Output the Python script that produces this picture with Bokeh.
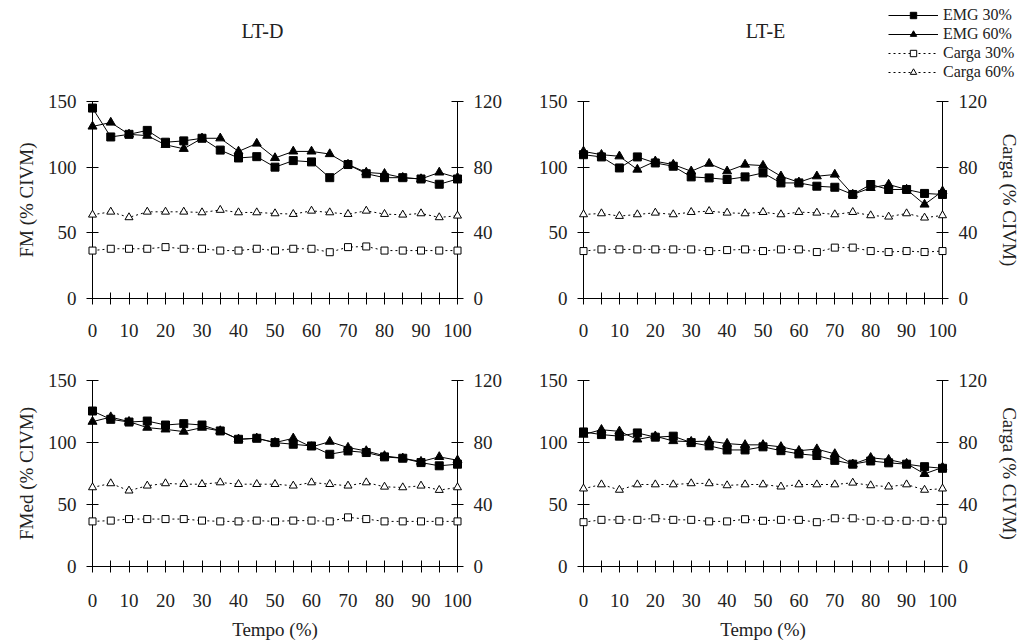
from bokeh.plotting import figure
from bokeh.models import (Range1d, LinearAxis, FixedTicker, Legend, LegendItem, Label)
from bokeh.layouts import column, row
from bokeh.embed import file_html
from bokeh.resources import INLINE

tempo = [0, 5, 10, 15, 20, 25, 30, 35, 40, 45, 50, 55, 60, 65, 70, 75, 80, 85, 90, 95, 100]

# LT-D, FM
d_fm_emg30 = [145, 123, 125, 128, 119, 120, 122, 113, 107, 108, 100, 105, 104, 92, 102, 95, 92, 92, 91, 87, 91]
d_fm_emg60 = [131, 134, 125, 124, 117, 114, 122, 122, 112, 118, 107, 112, 112, 110, 102, 96, 95, 92, 91, 96, 92]
d_fm_carga30 = [29.2, 30.3, 30.3, 30.3, 31.3, 30.3, 30.3, 29.2, 29.2, 30.3, 29.2, 30.3, 30.3, 28.2, 31.3, 31.7, 29.2, 29.2, 29.2, 29.2, 29.2]
d_fm_carga60 = [51.0, 52.8, 49.4, 52.8, 52.8, 52.8, 52.4, 53.9, 52.4, 52.4, 51.8, 51.4, 53.4, 52.4, 51.4, 53.4, 51.4, 51.0, 51.8, 49.4, 50.4]

# LT-E, FM
e_fm_emg30 = [109.5, 107.8, 99.4, 107.8, 103.2, 100.7, 92.6, 91.8, 90.6, 92.6, 95.6, 88, 88, 85.5, 84.7, 79.2, 86.8, 83, 83, 80, 79.2]
e_fm_emg60 = [112, 109.5, 108.3, 98.2, 104.5, 102, 96.9, 102.7, 96.9, 102, 101.2, 93.1, 88.5, 93.1, 94.4, 79.2, 84.2, 86.8, 83, 71.6, 81.7]
e_fm_carga30 = [28.9, 29.9, 29.9, 29.9, 29.9, 29.9, 29.9, 28.9, 29.5, 29.9, 28.9, 29.9, 29.9, 28.3, 31.0, 31.0, 28.9, 28.3, 28.9, 28.3, 28.9]
e_fm_carga60 = [51.2, 51.8, 50.2, 51.2, 52.2, 51.2, 52.6, 53.2, 52.2, 51.8, 52.6, 51.2, 52.6, 52.2, 51.2, 52.6, 50.6, 49.8, 51.8, 49.2, 50.6]

# LT-D, FMed
d_fmed_emg30 = [125.4, 118.7, 116.5, 117.3, 114.1, 115.2, 114.1, 109.3, 102.6, 103.4, 99.9, 98.6, 97.2, 90.5, 93.2, 91.9, 88.4, 87.3, 83.8, 81.2, 82.5]
d_fmed_emg60 = [116.8, 120.5, 116.8, 112, 110.6, 108.8, 112, 109.3, 102.6, 103.4, 99.9, 103.4, 96.4, 100.7, 95.9, 93.2, 89.2, 87.3, 84.6, 88.4, 85.7]
d_fmed_carga30 = [29.1, 29.6, 30.6, 30.6, 30.6, 30.6, 29.6, 29.1, 29.1, 29.6, 29.1, 29.6, 29.6, 29.1, 31.7, 30.6, 29.1, 29.1, 29.1, 29.1, 29.1]
d_fmed_carga60 = [51.0, 53.6, 48.9, 52.1, 53.6, 53.1, 53.1, 54.2, 53.1, 53.1, 53.1, 52.1, 54.2, 53.1, 52.1, 54.2, 51.4, 51.0, 52.1, 49.3, 51.0]

# LT-E, FMed
e_fmed_emg30 = [108.5, 106.4, 105.1, 107.7, 104.3, 105.1, 99.9, 97.3, 94, 94, 96.5, 93.4, 90.8, 89.5, 85.6, 82.5, 85.1, 83.6, 82.5, 80.5, 79.2]
e_fmed_emg60 = [106.4, 110.3, 109, 102.5, 105.1, 101.2, 100.7, 101.2, 99.1, 98.1, 98.1, 96.5, 93.4, 94.7, 90.8, 82.5, 87.7, 86.2, 83, 74.7, 79.9]
e_fmed_carga30 = [28.6, 30.1, 30.1, 30.1, 31.1, 30.1, 30.1, 29.1, 29.1, 30.5, 29.5, 30.1, 30.1, 28.6, 31.1, 31.1, 29.5, 29.5, 29.5, 29.5, 29.5]
e_fmed_carga60 = [50.2, 52.9, 49.4, 52.9, 52.9, 52.9, 53.6, 53.6, 52.3, 52.9, 52.9, 51.5, 52.9, 52.9, 52.9, 54.0, 52.3, 51.5, 52.9, 49.4, 50.2]

titles = ["LT-D", "LT-E"]
series_labels = ["EMG 30%", "EMG 60%", "Carga 30%", "Carga 60%"]

x_ticks = [0, 10, 20, 30, 40, 50, 60, 70, 80, 90, 100]
x_minor = [5, 15, 25, 35, 45, 55, 65, 75, 85, 95]
left_ticks = [0, 50, 100, 150]
right_ticks = [0, 40, 80, 120]

FONT = "Liberation Serif"
TXT = "#222222"


def style_axis(ax, size="19px"):
    ax.axis_line_color = "black"
    ax.axis_line_width = 1
    ax.major_tick_line_color = "black"
    ax.major_tick_in = 6
    ax.major_tick_out = 6
    ax.minor_tick_line_color = "black"
    ax.minor_tick_in = 6
    ax.minor_tick_out = 6
    ax.major_label_text_font = FONT
    ax.major_label_text_font_size = size
    ax.major_label_text_color = TXT
    ax.axis_label_text_font = FONT
    ax.axis_label_text_font_size = "19px"
    ax.axis_label_text_font_style = "normal"
    ax.axis_label_text_color = TXT


STY = {
    "e30": dict(marker="square", size=8, fill_color="black"),
    "e60": dict(marker="triangle", size=9, fill_color="black"),
    "c30": dict(marker="square", size=7, fill_color="white"),
    "c60": dict(marker="triangle", size=8, fill_color="white"),
}
DASH = {"e30": "solid", "e60": "solid", "c30": "2 3", "c60": "2 3"}


def panel(emg30, emg60, c30, c60, width, height, borders, ylabel, rlabel, xlabel, xstandoff):
    bl, br, bt, bb = borders
    p = figure(width=width, height=height, output_backend="svg", toolbar_location=None,
               x_range=Range1d(0, 100), y_range=Range1d(0, 150),
               min_border_left=bl, min_border_right=br, min_border_top=bt, min_border_bottom=bb)
    p.extra_y_ranges = {"carga": Range1d(0, 120)}
    p.outline_line_color = None
    p.xgrid.visible = False
    p.ygrid.visible = False

    p.xaxis.ticker = FixedTicker(ticks=x_ticks, minor_ticks=x_minor)
    p.yaxis.ticker = FixedTicker(ticks=left_ticks, minor_ticks=[])
    for ax in p.xaxis:
        style_axis(ax)
        ax.major_label_standoff = xstandoff
        ax.axis_label_standoff = 9
    for ax in p.yaxis:
        style_axis(ax)
        ax.major_label_standoff = 10
        ax.axis_label_standoff = 8
        ax.minor_tick_line_color = None
    p.xaxis.axis_label = xlabel
    p.yaxis.axis_label = ylabel

    rax = LinearAxis(y_range_name="carga", ticker=FixedTicker(ticks=right_ticks, minor_ticks=[]))
    style_axis(rax)
    rax.minor_tick_line_color = None
    rax.major_label_standoff = 10
    rax.axis_label_standoff = 9
    rax.axis_label = rlabel
    p.add_layout(rax, "right")

    for key, ys, rng in (("e30", emg30, "default"), ("e60", emg60, "default"),
                         ("c30", c30, "carga"), ("c60", c60, "carga")):
        p.line(tempo, ys, line_color="black", line_width=1, line_dash=DASH[key],
               y_range_name=rng, level="overlay")
        p.scatter(tempo, ys, line_color="black", y_range_name=rng, level="overlay", **STY[key])
    return p


# header with titles and legend (full width so nothing is clipped)
HW, HH = 1031, 85
header = figure(width=HW, height=HH, output_backend="svg", toolbar_location=None,
                x_range=Range1d(0, HW), y_range=Range1d(0, HH),
                x_axis_type=None, y_axis_type=None,
                min_border=0, min_border_left=0, min_border_right=0,
                min_border_top=0, min_border_bottom=0)
header.outline_line_color = None
header.xgrid.visible = False
header.ygrid.visible = False
for txt, xc in zip(titles, (262, 765)):
    header.add_layout(Label(x=xc, y=HH - 30, text=txt, text_align="center",
                            text_baseline="middle", text_font=FONT,
                            text_font_size="20px", text_color=TXT))

# legend proxies: the LT-E FM series, hidden in the header (only their swatches show)
items = []
for key, lab, ys in zip(("e30", "e60", "c30", "c60"), series_labels,
                        (e_fm_emg30, e_fm_emg60, e_fm_carga30, e_fm_carga60)):
    lr = header.line(tempo, ys, line_color="black", line_width=1, line_dash=DASH[key],
                     visible=False)
    mr = header.scatter(tempo, ys, line_color="black", visible=False, **STY[key])
    items.append(LegendItem(label=lab, renderers=[lr, mr]))
legend = Legend(items=items, location=(888, 4), orientation="vertical",
                glyph_width=50, glyph_height=16, label_height=16, label_standoff=5, spacing=1,
                padding=0, margin=0, border_line_color=None, background_fill_alpha=0,
                inactive_fill_alpha=0,
                label_text_font=FONT, label_text_font_size="16px", label_text_color=TXT)
header.add_layout(legend, "center")

p1 = panel(d_fm_emg30, d_fm_emg60, d_fm_carga30, d_fm_carga60,
           520, 265, (92, 63, 16, 52), "FM (% CIVM)", None, None, 19)
p2 = panel(e_fm_emg30, e_fm_emg60, e_fm_carga30, e_fm_carga60,
           511, 265, (63, 89, 16, 52), None, "Carga (% CIVM)", None, 19)
p3 = panel(d_fmed_emg30, d_fmed_emg60, d_fmed_carga30, d_fmed_carga60,
           520, 292, (92, 63, 30, 72), "FMed (% CIVM)", None, "Tempo (%)", 21)
p4 = panel(e_fmed_emg30, e_fmed_emg60, e_fmed_carga30, e_fmed_carga60,
           511, 292, (63, 89, 30, 72), None, "Carga (% CIVM)", "Tempo (%)", 21)

layout = column(header, row(p1, p2), row(p3, p4))

open("out.html", "w").write(file_html(layout, INLINE))
